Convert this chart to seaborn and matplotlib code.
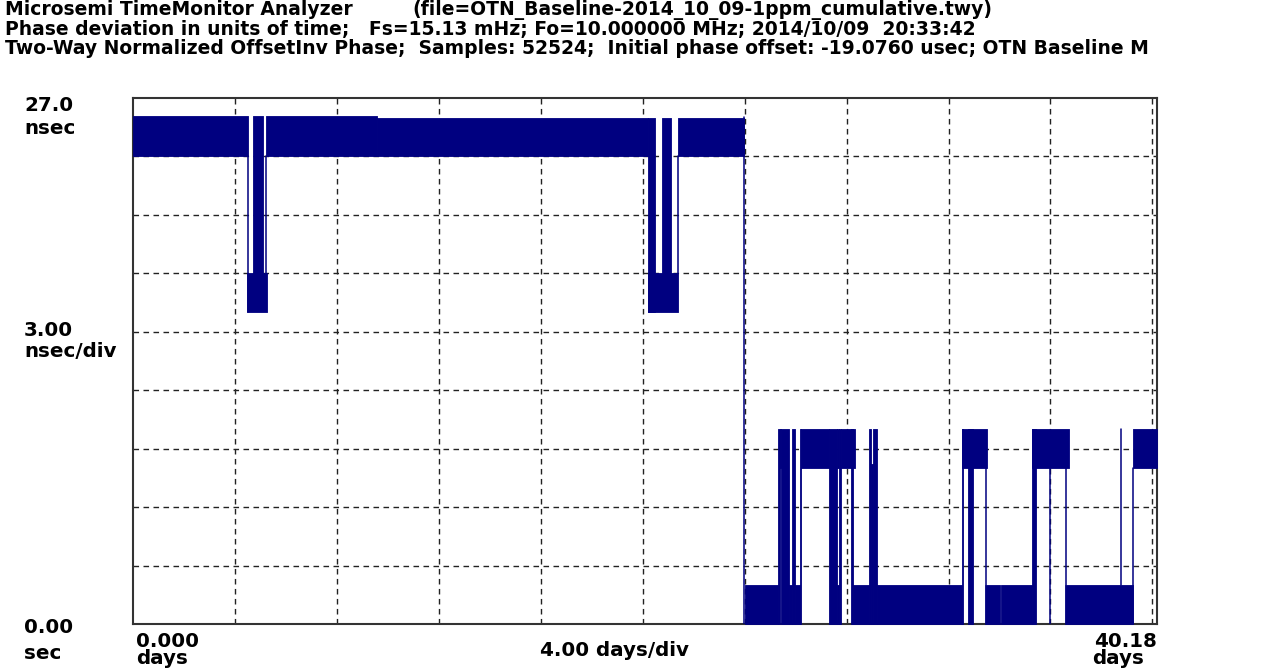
import numpy as np
import pandas as pd
import matplotlib
matplotlib.use("Agg")
import matplotlib.pyplot as plt
import seaborn as sns

# ---------------- data (days, nsec) ----------------
band_start = [0.00, 4.49, 4.72, 5.21, 9.56, 20.19, 20.19, 20.74, 21.37,
              24.00, 25.32, 25.37, 25.42, 25.74, 25.85, 25.98, 26.17, 26.23,
              27.32, 27.64, 27.64, 27.72, 27.78, 28.16, 28.26, 28.89, 28.95,
              29.02, 29.18, 32.52, 32.52, 32.78, 33.43, 34.07, 35.26, 35.26,
              36.57, 39.23]
band_end = [4.53, 5.25, 5.09, 9.56, 20.19, 20.48, 21.40, 21.11, 23.97,
            25.32, 25.37, 25.42, 25.74, 25.85, 25.98, 26.17, 26.23, 27.32,
            27.64, 27.72, 27.72, 27.80, 28.33, 28.26, 28.89, 28.95, 29.02,
            29.18, 32.52, 33.50, 32.58, 32.97, 34.02, 35.26, 36.72, 35.43,
            39.23, 40.18]
band_low = [24.0, 16.0, 18.0, 24.0, 24.0, 16.0, 16.0, 18.0, 24.0,
            0.0, 0.0, 8.0, 0.0, 0.0, 0.0, 0.0, 0.0, 8.0,
            0.0, 8.0, 0.0, 0.0, 8.0, 0.0, 0.0, 0.0, 0.0,
            0.0, 0.0, 8.0, 0.0, 0.0, 0.0, 0.0, 8.0, 0.0,
            0.0, 8.0]
band_high = [26.1, 18.0, 26.1, 26.1, 25.95, 25.95, 18.0, 25.95, 25.95,
             2.0, 10.0, 10.0, 10.0, 2.0, 10.0, 2.0, 10.0, 10.0,
             10.0, 10.0, 2.0, 10.0, 10.0, 10.0, 2.0, 10.0, 8.2,
             10.0, 2.0, 10.0, 10.0, 10.0, 2.0, 2.0, 10.0, 10.0,
             2.0, 10.0]

spike_x = [4.50, 5.23, 21.385, 23.99, 33.46, 36.00, 36.60, 38.75, 39.25]
spike_low = [16.0, 18.0, 18.0, 0.0, 2.0, 0.0, 2.0, 2.0, 0.0]
spike_high = [24.0, 24.0, 24.0, 26.0, 8.0, 8.0, 8.0, 10.0, 8.0]

x_max_days = 40.18
y_max_ns = 27.0
x_grid_days = [4, 8, 12, 16, 20, 24, 28, 32, 36, 40]
y_grid_ns = [3, 6, 9, 12, 15, 18, 21, 24]

title_app = "Microsemi TimeMonitor Analyzer"
title_file = "(file=OTN_Baseline-2014_10_09-1ppm_cumulative.twy)"
title_row2 = "Phase deviation in units of time;   Fs=15.13 mHz; Fo=10.000000 MHz; 2014/10/09  20:33:42"
title_row3 = "Two-Way Normalized OffsetInv Phase;  Samples: 52524;  Initial phase offset: -19.0760 usec; OTN Baseline M"

# ---------------- style ----------------
sns.set_theme(style="white")
plt.rcParams["font.family"] = ["DejaVu Sans"]
NAVY = "#000080"

W, H = 1265, 671
fig = plt.figure(figsize=(W / 100, H / 100), dpi=100)
L, R, T, B = 133, 1157, 98, 624
ax = fig.add_axes([L / W, 1 - B / H, (R - L) / W, (B - T) / H])

# grid (behind data)
ax.set_xlim(0, x_max_days)
ax.set_ylim(0, y_max_ns)
ax.set_xticks(x_grid_days)
ax.set_yticks(y_grid_ns)
ax.tick_params(length=0, labelbottom=False, labelleft=False)
ax.grid(True, color="#222222", linewidth=1.0, linestyle=(0, (4.0, 3.2)))
ax.set_axisbelow(True)

# bands of rapidly toggling phase
for x0, x1, lo, hi in zip(band_start, band_end, band_low, band_high):
    ax.fill_between([x0, x1], [lo, lo], [hi, hi], color=NAVY,
                    linewidth=0.6, edgecolor=NAVY, zorder=3)

# single transitions
spikes = pd.DataFrame({
    "x": np.repeat(spike_x, 2),
    "y": np.ravel(np.column_stack([spike_low, spike_high])),
    "unit": np.repeat(np.arange(len(spike_x)), 2),
})
sns.lineplot(data=spikes, x="x", y="y", units="unit", estimator=None,
             sort=False, color=NAVY, linewidth=1.1, ax=ax, zorder=4,
             legend=False)
ax.set_xlabel("")
ax.set_ylabel("")
ax.set_xlim(0, x_max_days)
ax.set_ylim(0, y_max_ns)

for s in ax.spines.values():
    s.set_visible(True)
    s.set_color("#333333")
    s.set_linewidth(1.5)


def ftext(x, y, s, size=12, ha="left", va="baseline"):
    fig.text(x / W, 1 - y / H, s, fontsize=size, fontweight="bold",
             ha=ha, va=va, color="black")


TS = 13.5
ftext(5, 15, title_app, TS)
ftext(412, 15, title_file, TS)
ftext(5, 35, title_row2, TS)
ftext(5, 54, title_row3, TS)

LS = 14.3
ftext(24, 111, "27.0", LS)
ftext(24, 134, "nsec", LS)
ftext(24, 336, "3.00", LS)
ftext(24, 357, "nsec/div", LS)
ftext(24, 633, "0.00", LS)
ftext(24, 659, "sec", LS)
ftext(136, 647, "0.000", LS)
ftext(136, 664, "days", LS)
ftext(614, 656, "4.00 days/div", LS, ha="center")
ftext(1157, 647, "40.18", LS, ha="right")
ftext(1092, 664, "days", LS)

fig.savefig("out.png", dpi=100, facecolor="white")
